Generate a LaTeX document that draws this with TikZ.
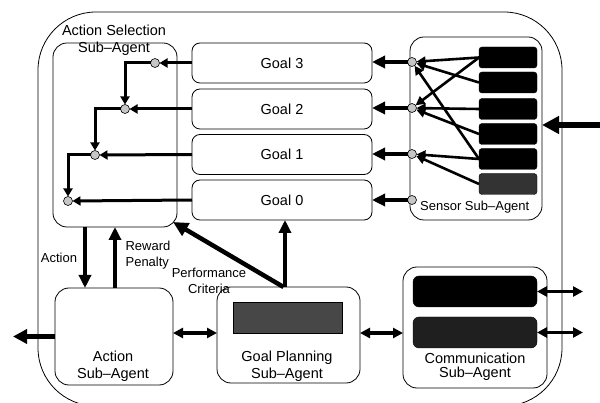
\documentclass[tikz,border=0pt]{standalone}
\usepackage{fontspec}
\setmainfont{Liberation Sans}
\usetikzlibrary{arrows.meta}
\begin{document}
\begin{tikzpicture}[x=1pt,y=-1pt,
  lbl/.style={font=\fontsize{14.5}{17}\selectfont, inner sep=0pt},
  small/.style={font=\fontsize{13}{15.5}\selectfont, inner sep=0pt},
  box/.style={draw, line width=0.8pt, rounded corners=#1, inner sep=0pt, outer sep=0pt},
  box/.default=14pt,
  goalbox/.style={box=8pt, minimum width=180pt, minimum height=40pt, lbl},
  sensbar/.style={draw, fill=black, rounded corners=3pt, minimum width=58pt, minimum height=21pt, inner sep=0pt, outer sep=0pt},
  commbar/.style={draw, fill=black, rounded corners=6pt, minimum width=124pt, minimum height=31pt, inner sep=0pt, outer sep=0pt},
  junction/.style={circle, draw, line width=0.6pt, fill=gray!45, minimum size=9pt, inner sep=0pt, outer sep=0pt},
  goalarrow/.style={line width=3.5pt, -{Triangle[length=13pt,width=12pt]}},
  sumarrow/.style={line width=3pt, -{Triangle[length=8pt,width=9pt]}},
  sensarrow/.style={line width=2.6pt, -{Triangle[length=9pt,width=9pt]}},
  flowarrow/.style={line width=3.8pt, -{Triangle[length=13pt,width=12pt]}},
  dblarrow/.style={line width=3.5pt, {Triangle[length=10pt,width=10pt]}-{Triangle[length=10pt,width=10pt]}},
  inarrow/.style={line width=6pt, -{Triangle[length=17pt,width=17pt]}},
  outarrow/.style={line width=5pt, -{Triangle[length=14pt,width=14pt]}}
]
\useasboundingbox (0,0) rectangle (600,403);

% whole agent
\node[box=58pt, minimum width=524pt, minimum height=394pt] (system) at (300,209) {};

% action selection sub-agent
\node[box, minimum width=124pt, minimum height=184pt] (asel) at (115,135) {};
\node[lbl, align=center] (aselname) at (114,40.5) {Action Selection\\Sub–Agent};
\node[junction] (ac3) at (155,63) {};
\node[junction] (ac2) at (125,109) {};
\node[junction] (ac1) at (95,155) {};
\node[junction] (ac0) at (68,201) {};

% goals
\node[goalbox] (goal3) at (282,63) {Goal 3};
\node[goalbox] (goal2) at (282,109) {Goal 2};
\node[goalbox] (goal1) at (282,154.5) {Goal 1};
\node[goalbox] (goal0) at (282,200) {Goal 0};

% sensor sub-agent
\node[box, minimum width=132pt, minimum height=183pt] (sensor) at (476,128.5) {};
\node[sensbar] (s1) at (508,57.5) {};
\node[sensbar] (s2) at (508,82.5) {};
\node[sensbar] (s3) at (508,109) {};
\node[sensbar] (s4) at (508,134) {};
\node[sensbar] (s5) at (508,159) {};
\node[sensbar, fill=black!80] (s6) at (508,184) {};
\node[junction] (sc3) at (412,62) {};
\node[junction] (sc2) at (412,108) {};
\node[junction] (sc1) at (412,154) {};
\node[junction] (sc0) at (412,200) {};
\node[small, anchor=west] (sensname) at (420,207) {Sensor Sub–Agent};

% action sub-agent
\node[box, minimum width=118pt, minimum height=97pt] (actionA) at (114,336.5) {};
\node[lbl, align=center] (actname) at (113,366.5) {Action\\Sub–Agent};

% goal planning sub-agent
\node[box, minimum width=143pt, minimum height=96pt] (plan) at (288.5,335) {};
\node[draw, fill=black!72, minimum width=109pt, minimum height=31pt, inner sep=0pt] (planbar) at (287.5,317.5) {};
\node[lbl, align=center] (planname) at (287,366) {Goal Planning\\Sub–Agent};

% communication sub-agent
\node[box, minimum width=144pt, minimum height=121pt] (comm) at (475,327.5) {};
\node[commbar] (cbar1) at (475,291.5) {};
\node[commbar, fill=black!88] (cbar2) at (475,332.5) {};
\node[lbl, align=center, font=\fontsize{14.5}{14}\selectfont] (commname) at (475,366.5) {Communication\\Sub–Agent};

% free ends
\coordinate (inS) at (600,125);
\coordinate (outL) at (13,337);
\coordinate (outR) at (583,300);

% sensor inputs to goals
\foreach \i in {0,...,3}
  \draw[goalarrow] (sc\i.west) -- (sc\i.west -| goal\i.east);

% internal sensor wiring
\draw[sensarrow] (s1.west) -- (sc3);
\draw[sensarrow] (s1.west) -- (sc2);
\draw[sensarrow] (s2.west) -- (sc3);
\draw[sensarrow] (s3.west) -- (sc2);
\draw[sensarrow] (s4.west) -- (sc2);
\draw[sensarrow] (s5.west) -- (sc3);
\draw[sensarrow] (s5.west) -- (sc1);
\draw[sensarrow] (s6.west) -- (sc1);

% goals to action selection
\foreach \i in {0,...,3}
  \draw[sumarrow] (goal\i.west) -- (ac\i.east);
\draw[sumarrow] (ac3.west) -| (ac2.north);
\draw[sumarrow] (ac2.west) -| (ac1.north);
\draw[sumarrow] (ac1.west) -| (ac0.north);

% environment input
\draw[inarrow] (inS) -- (inS -| sensor.east);

% action / reward loop
\draw[flowarrow] ([xshift=-30pt]asel.south) -- ([xshift=-30pt]asel.south |- actionA.north);
\draw[flowarrow] ([xshift=1pt]actionA.north) -- ([xshift=1pt]actionA.north |- asel.south);
\node[small] (actlbl) at (59,258) {Action};
\node[small, align=left] (rewlbl) at (148,255) {Reward\\Penalty};

% goal planning outputs
\draw[flowarrow] ([xshift=-3.5pt]plan.north) -- ([xshift=-3.5pt]plan.north |- goal0.south);
\draw[line width=4.5pt, -{Triangle[length=15pt,width=14pt]}] ([xshift=-5pt]plan.north) -- ([xshift=-4pt,yshift=5pt]asel.south east);
\node[small, align=center] (perflbl) at (209,281) {Performance\\Criteria};

% actions to the outside
\draw[outarrow] (actionA.west) -- (actionA.west -| outL);

% links between sub-agents
\draw[dblarrow] ([yshift=3.5pt]actionA.east) -- ([yshift=3.5pt]actionA.east -| plan.west);
\draw[dblarrow] ([yshift=2pt]plan.east) -- ([yshift=2pt]plan.east -| comm.west);

% communication channels
\draw[dblarrow] (cbar1.east) -- (cbar1.east -| outR);
\draw[dblarrow] (cbar2.east) -- (cbar2.east -| outR);
\end{tikzpicture}
\end{document}
